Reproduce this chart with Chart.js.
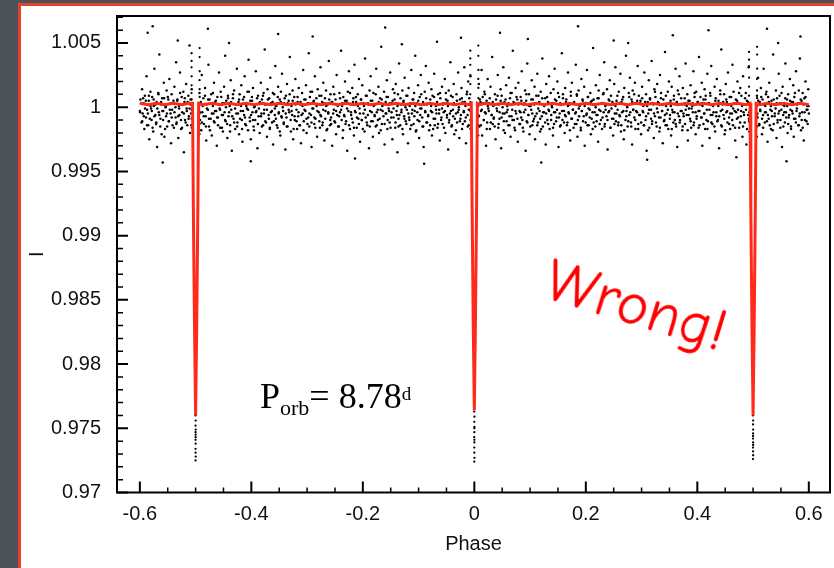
<!DOCTYPE html>
<html><head><meta charset="utf-8">
<script src="https://cdn.jsdelivr.net/npm/chart.js@4.4.1/dist/chart.umd.min.js"></script>
<style>
html,body{margin:0;padding:0}
body{width:834px;height:568px;overflow:hidden;position:relative;background:#4d5158}
#panel{position:absolute;left:18px;top:3px;width:830px;height:590px;background:#fff;border:3px solid #e4402a;box-sizing:border-box}
#c{position:absolute;left:0;top:0}
#porb{position:absolute;left:260px;top:378px;font-family:"Liberation Serif","Times New Roman",serif;font-size:36px;line-height:1;color:#000;white-space:nowrap}
#porb .sb{font-size:22px;position:relative;top:7px}
#porb .sp{font-size:19px;position:relative;top:-8px}
#wrong{position:absolute;left:636px;top:306px;transform:translate(-50%,-50%) rotate(17deg);font-family:"Comic Sans MS","Comic Neue","DejaVu Sans",sans-serif;font-size:60px;line-height:1;color:#ff0000;white-space:nowrap}
</style></head><body>
<div id="panel"></div>
<canvas id="c" width="834" height="568"></canvas>
<div id="porb">P<span class="sb">orb</span>= 8.78<span class="sp">d</span></div>
<div id="wrong">Wrong!</div>
<script>
const xTicks=[-0.6,-0.4,-0.2,0,0.2,0.4,0.6];
const xMinorTicks=[-0.55,-0.5,-0.45,-0.35,-0.3,-0.25,-0.15,-0.1,-0.05,0.05,0.1,0.15,0.25,0.3,0.35,0.45,0.5,0.55];
const yTicks=[0.97,0.975,0.98,0.985,0.99,0.995,1,1.005];
const yMinorTicks=[0.971,0.972,0.973,0.974,0.976,0.977,0.978,0.979,0.981,0.982,0.983,0.984,0.986,0.987,0.988,0.989,0.991,0.992,0.993,0.994,0.996,0.997,0.998,0.999,1.001,1.002,1.003,1.004,1.006,1.007];

const cloudA=[[-.600,.9997],[-.599,1.0006],[-.597,.9988],[-.596,1.0014],[-.595,.9995],[-.593,1.0003],[-.592,.9983],[-.591,1.0009],[-.589,.9992],[-.588,1.0024],[-.587,.9998],[-.585,.9986],[-.584,1.0005],[-.583,.9975],[-.581,1.0012],[-.580,.9999],[-.579,.9990],[-.578,1.0008],[-.576,.9981],[-.575,1.0001],[-.574,1.0030],[-.572,.9994],[-.571,.9987],[-.570,1.0004],[-.569,.9969],[-.567,1.0011],[-.566,.9996],[-.565,1.0041],[-.563,.9991],[-.562,1.0002],[-.561,.9979],[-.560,1.0007],[-.558,.9997],[-.557,1.0019],[-.556,.9977],[-.554,1.0000],[-.553,.9993],[-.552,1.0013],[-.551,.9985],[-.549,1.0006],[-.548,.9989],[-.547,1.0022],[-.545,.9995],[-.544,.9972],[-.543,1.0010],[-.542,.9998],[-.540,1.0003],[-.539,.9984],[-.538,1.0016],[-.536,.9992],[-.535,1.0035],[-.534,.9988],[-.533,1.0005],[-.531,.9976],[-.530,1.0001],[-.529,.9994],[-.528,1.0027],[-.526,.9983],[-.525,1.0008],[-.524,.9996],[-.522,1.0012],[-.521,.9965],[-.520,1.0004],[-.519,.9990],[-.517,1.0018],[-.516,.9999],[-.515,.9986],[-.513,1.0009],[-.512,.9993],[-.511,1.0048],[-.510,.9980],[-.509,1.0002],[-.508,.9995],[-.507,1.0014]];

const cloudB=[[-.493,1.0011],[-.492,.9990],[-.491,1.0003],[-.490,.9982],[-.489,1.0025],[-.488,.9996],[-.486,1.0007],[-.485,.9987],
[-.483,1.0015],[-.482,.9993],[-.481,.9974],[-.480,1.0002],[-.478,.9998],[-.477,1.0033],[-.476,.9985],[-.475,1.0006],
[-.473,.9991],[-.472,1.0010],[-.471,.9978],[-.469,1.0001],[-.468,.9995],[-.467,1.0019],[-.466,.9988],[-.465,1.0004],
[-.463,.9997],[-.462,.9970],[-.461,1.0008],[-.460,.9992],[-.458,1.0027],[-.457,.9999],[-.456,.9984],[-.455,1.0012],
[-.453,.9994],[-.452,1.0003],[-.451,.9981],[-.449,1.0016],[-.448,.9996],[-.447,1.0040],[-.446,.9989],[-.445,1.0005],
[-.443,.9976],[-.442,1.0009],[-.441,.9993],[-.439,1.0001],[-.438,.9986],[-.437,1.0021],[-.436,.9998],[-.435,.9966],
[-.433,1.0007],[-.432,.9991],[-.431,1.0013],[-.429,.9983],[-.428,1.0002],[-.427,.9995],[-.426,1.0030],[-.425,.9988],
[-.423,1.0004],[-.422,.9979],[-.421,1.0010],[-.419,.9997],[-.418,1.0017],[-.417,.9990],[-.416,.9973],[-.415,1.0006],
[-.413,.9994],[-.412,1.0024],[-.411,.9987],[-.409,1.0001],[-.408,.9999],[-.407,1.0012],[-.406,.9982],[-.405,1.0037],
[-.403,.9992],[-.402,1.0005],[-.401,.9975],[-.399,1.0008],[-.398,.9996],[-.397,1.0015],[-.396,.9985],[-.395,1.0000],
[-.393,.9990],[-.392,1.0028],[-.391,.9997],[-.389,.9968],[-.388,1.0009],[-.387,.9993],[-.386,1.0003],[-.385,.9980],
[-.383,1.0019],[-.382,.9995],[-.381,1.0006],[-.379,.9986],[-.378,1.0011],[-.377,.9998],[-.376,1.0045],[-.375,.9989],
[-.373,1.0002],[-.372,.9977],[-.371,1.0014],[-.369,.9994],[-.368,1.0007],[-.367,.9983],[-.366,1.0023],[-.365,.9996],
[-.363,.9988],[-.362,1.0004],[-.361,.9971],[-.359,1.0010],[-.358,.9999],[-.357,1.0032],[-.356,.9991],[-.355,1.0001],
[-.353,.9984],[-.352,1.0016],[-.351,.9995],[-.349,1.0006],[-.348,.9978],[-.347,1.0012],[-.346,.9993],[-.345,1.0026],
[-.343,.9997],[-.342,.9987],[-.341,1.0003],[-.339,.9967],[-.338,1.0009],[-.337,.9992],[-.336,1.0018],[-.335,.9985],
[-.333,1.0005],[-.332,.9996],[-.331,1.0039],[-.329,.9981],[-.328,1.0001],[-.327,.9994],[-.326,1.0013],[-.325,.9975],
[-.323,1.0008],[-.322,.9990],[-.321,1.0022],[-.319,.9998],[-.318,.9983],[-.317,1.0004],[-.316,.9993],[-.315,1.0015],
[-.313,.9986],[-.312,1.0002],[-.311,.9972],[-.309,1.0011],[-.308,.9995],[-.307,1.0029],[-.306,.9989],[-.305,1.0006],
[-.303,.9997],[-.302,1.0017],[-.301,.9980],[-.299,1.0003],[-.298,.9992],[-.297,1.0042],[-.296,.9985],[-.295,1.0008],
[-.293,.9994],[-.292,.9969],[-.291,1.0012],[-.289,.9999],[-.288,1.0005],[-.287,.9987],[-.286,1.0024],[-.285,.9991],
[-.283,1.0001],[-.282,.9977],[-.281,1.0014],[-.279,.9996],[-.278,1.0009],[-.277,.9984],[-.276,1.0031],[-.275,.9993],
[-.273,1.0004],[-.272,.9988],[-.271,1.0019],[-.269,.9974],[-.268,1.0007],[-.267,.9997],[-.266,1.0013],[-.265,.9982],
[-.263,1.0002],[-.262,.9995],[-.261,1.0036],[-.259,.9986],[-.258,1.0010],[-.257,.9992],[-.256,1.0004],[-.255,.9970],
[-.253,1.0016],[-.252,.9998],[-.251,.9989],[-.249,1.0006],[-.248,.9979],[-.247,1.0025],[-.246,.9994],[-.245,1.0001],
[-.243,.9985],[-.242,1.0011],[-.241,.9996],[-.239,1.0044],[-.238,.9990],[-.237,1.0003],[-.236,.9976],[-.235,1.0008],
[-.233,.9993],[-.232,1.0020],[-.231,.9987],[-.229,1.0005],[-.228,.9966],[-.227,1.0012],[-.226,.9997],[-.225,1.0028],
[-.223,.9983],[-.222,1.0002],[-.221,.9994],[-.219,1.0015],[-.218,.9988],[-.217,1.0007],[-.216,.9978],[-.215,1.0033],
[-.213,.9996],[-.212,1.0004],[-.211,.9984],[-.209,1.0010],[-.208,.9991],[-.207,1.0022],[-.206,.9999],[-.205,.9973],
[-.203,1.0006],[-.202,.9990],[-.201,1.0017],[-.199,.9995],[-.198,1.0001],[-.197,.9981],[-.196,1.0038],[-.195,.9992],
[-.193,1.0009],[-.192,.9986],[-.191,1.0003],[-.189,.9968],[-.188,1.0013],[-.187,.9997],[-.186,1.0024],[-.185,.9989],
[-.183,1.0005],[-.182,.9977],[-.181,1.0011],[-.179,.9994],[-.178,1.0002],[-.177,.9985],[-.176,1.0030],[-.175,.9996],
[-.173,.9990],[-.172,1.0016],[-.171,.9980],[-.169,1.0007],[-.168,.9998],[-.167,1.0047],[-.166,.9987],[-.165,1.0001],
[-.163,.9993],[-.162,1.0012],[-.161,.9971],[-.159,1.0004],[-.158,.9995],[-.157,1.0021],[-.156,.9983],[-.155,1.0008],
[-.153,.9997],[-.152,.9988],[-.151,1.0027],[-.149,.9992],[-.148,1.0003],[-.147,.9975],[-.146,1.0014],[-.145,.9999],
[-.143,1.0006],[-.142,.9984],[-.141,1.0018],[-.139,.9994],[-.138,.9965],[-.137,1.0010],[-.136,.9991],[-.135,1.0034],
[-.133,.9986],[-.132,1.0002],[-.131,.9996],[-.129,1.0013],[-.128,.9979],[-.127,1.0005],[-.126,.9993],[-.125,1.0023],
[-.123,.9989],[-.122,1.0009],[-.121,.9998],[-.119,.9972],[-.118,1.0015],[-.117,.9992],[-.116,1.0001],[-.115,.9983],
[-.113,1.0029],[-.112,.9995],[-.111,1.0006],[-.109,.9987],[-.108,1.0011],[-.107,.9997],[-.106,1.0040],[-.105,.9981],
[-.103,1.0003],[-.102,.9990],[-.101,1.0017],[-.099,.9976],[-.098,1.0008],[-.097,.9994],[-.096,1.0025],[-.095,.9999],
[-.093,.9985],[-.092,1.0004],[-.091,.9969],[-.089,1.0012],[-.088,.9996],[-.087,1.0032],[-.086,.9988],[-.085,1.0002],
[-.083,.9993],[-.082,1.0019],[-.081,.9982],[-.079,1.0006],[-.078,.9997],[-.077,1.0014],[-.076,.9978],[-.075,1.0009],
[-.073,.9991],[-.072,1.0026],[-.071,.9986],[-.069,1.0001],[-.068,.9995],[-.067,1.0051],[-.066,.9984],[-.065,1.0010],
[-.063,.9998],[-.062,.9974],[-.061,1.0007],[-.059,.9992],[-.058,1.0016],[-.057,.9987],[-.056,1.0003],[-.055,.9996],
[-.053,1.0022],[-.052,.9980],[-.051,1.0011],[-.049,.9994],[-.048,1.0005],[-.047,.9967],[-.046,1.0013],[-.045,.9990],
[-.043,1.0035],[-.042,.9997],[-.041,.9985],[-.039,1.0008],[-.038,.9993],[-.037,1.0018],[-.036,.9979],[-.035,1.0002],
[-.033,.9995],[-.032,1.0010],[-.031,.9988],[-.029,1.0027],[-.028,.9998],[-.027,.9976],[-.026,1.0006],[-.025,.9991],
[-.023,1.0015],[-.022,.9983],[-.021,1.0004],[-.019,.9996],[-.018,1.0031],[-.017,.9989],[-.016,1.0001],[-.015,.9972],
[-.013,1.0012],[-.012,.9994],[-.011,1.0020],[-.010,.9986],[-.009,1.0007],[-.008,.9998],[-.007,1.0024]];

const cloudC=[[.007,.9993],[.008,1.0018],[.009,.9985],[.011,1.0004],[.012,.9997],[.013,1.0029],[.014,.9978],[.015,1.0008],
[.017,.9990],[.018,1.0012],[.019,.9996],[.021,.9970],[.022,1.0005],[.023,.9988],[.024,1.0022],[.025,.9999],
[.027,1.0003],[.028,.9983],[.029,1.0016],[.031,.9994],[.032,1.0039],[.033,.9987],[.034,1.0001],[.035,.9992],
[.037,1.0010],[.038,.9975],[.039,1.0006],[.041,.9997],[.042,1.0025],[.043,.9984],[.044,1.0002],[.045,.9991],
[.047,1.0014],[.048,.9968],[.049,1.0009],[.051,.9995],[.052,1.0031],[.053,.9989],[.054,1.0004],[.055,.9980],
[.057,1.0017],[.058,.9996],[.059,1.0001],[.061,.9986],[.062,1.0023],[.063,.9993],[.064,1.0007],[.065,.9977],
[.067,1.0011],[.068,.9998],[.069,1.0044],[.071,.9990],[.072,1.0003],[.073,.9982],[.074,1.0015],[.075,.9995],
[.077,1.0006],[.078,.9973],[.079,1.0019],[.081,.9997],[.082,.9987],[.083,1.0008],[.084,.9992],[.085,1.0028],
[.087,.9984],[.088,1.0002],[.089,.9996],[.091,1.0013],[.092,.9966],[.093,1.0005],[.094,.9989],[.095,1.0034],
[.097,.9994],[.098,1.0010],[.099,.9979],[.101,1.0001],[.102,.9998],[.103,1.0021],[.104,.9986],[.105,1.0006],
[.107,.9991],[.108,1.0016],[.109,.9975],[.111,1.0003],[.112,.9995],[.113,1.0026],[.114,.9988],[.115,1.0009],
[.117,.9997],[.118,.9981],[.119,1.0012],[.121,.9993],[.122,1.0038],[.123,.9985],[.124,1.0002],[.125,.9996],
[.127,1.0007],[.128,.9971],[.129,1.0018],[.131,.9990],[.132,1.0004],[.133,.9998],[.134,1.0024],[.135,.9983],
[.137,1.0011],[.138,.9994],[.139,1.0001],[.141,.9978],[.142,1.0014],[.143,.9987],[.144,1.0030],[.145,.9996],
[.147,1.0005],[.148,.9992],[.149,1.0020],[.151,.9969],[.152,1.0008],[.153,.9995],[.154,1.0003],[.155,.9986],
[.157,1.0042],[.158,.9990],[.159,1.0010],[.161,.9997],[.162,.9980],[.163,1.0015],[.164,.9993],[.165,1.0006],
[.167,.9988],[.168,1.0027],[.169,.9996],[.171,1.0002],[.172,.9974],[.173,1.0012],[.174,.9991],[.175,1.0019],
[.177,.9998],[.178,.9984],[.179,1.0004],[.181,.9995],[.182,1.0033],[.183,.9987],[.184,1.0009],[.185,.9977],
[.187,1.0013],[.188,.9993],[.189,1.0001],[.191,.9982],[.192,1.0022],[.193,.9997],[.194,1.0006],[.195,.9989],
[.197,1.0016],[.198,.9970],[.199,1.0003],[.201,.9994],[.202,1.0029],[.203,.9986],[.204,1.0008],[.205,.9999],
[.207,.9992],[.208,1.0011],[.209,.9979],[.211,1.0005],[.212,.9996],[.213,1.0046],[.214,.9988],[.215,1.0002],
[.217,.9985],[.218,1.0017],[.219,.9994],[.221,1.0007],[.222,.9973],[.223,1.0013],[.224,.9998],[.225,1.0025],
[.227,.9990],[.228,1.0003],[.229,.9983],[.231,1.0010],[.232,.9996],[.233,1.0035],[.234,.9987],[.235,1.0001],
[.237,.9993],[.238,1.0014],[.239,.9967],[.241,1.0006],[.242,.9997],[.243,1.0021],[.244,.9984],[.245,1.0009],
[.247,.9991],[.248,1.0002],[.249,.9978],[.251,1.0018],[.252,.9995],[.253,1.0031],[.254,.9989],[.255,1.0005],
[.257,.9998],[.258,.9986],[.259,1.0012],[.261,.9993],[.262,1.0026],[.263,.9981],[.264,1.0004],[.265,.9996],
[.267,1.0008],[.268,.9975],[.269,1.0015],[.271,.9990],[.272,1.0040],[.273,.9997],[.274,1.0001],[.275,.9985],
[.277,1.0011],[.278,.9994],[.279,1.0023],[.281,.9988],[.282,1.0006],[.283,.9971],[.284,1.0013],[.285,.9998],
[.287,.9992],[.288,1.0019],[.289,.9983],[.291,1.0003],[.292,.9996],[.293,1.0032],[.294,.9987],[.295,1.0009],
[.297,.9994],[.298,1.0005],[.299,.9979],[.301,1.0016],[.302,.9997],[.303,1.0001],[.304,.9986],[.305,1.0027],
[.307,.9990],[.308,1.0010],[.309,.9966],[.311,1.0004],[.312,.9995],[.313,1.0021],[.314,.9984],[.315,1.0007],
[.317,.9998],[.318,1.0036],[.319,.9989],[.321,1.0002],[.322,.9976],[.323,1.0014],[.324,.9993],[.325,1.0008],
[.327,.9985],[.328,1.0018],[.329,.9996],[.331,1.0003],[.332,.9981],[.333,1.0025],[.334,.9992],[.335,1.0011],
[.337,.9997],[.338,.9972],[.339,1.0006],[.341,.9990],[.342,1.0043],[.343,.9986],[.344,1.0001],[.345,.9995],
[.347,1.0012],[.348,.9983],[.349,1.0020],[.351,.9994],[.352,1.0005],[.353,.9978],[.354,1.0016],[.355,.9998],
[.357,.9988],[.358,1.0009],[.359,.9996],[.361,1.0030],[.362,.9985],[.363,1.0003],[.364,.9969],[.365,1.0013],
[.367,.9993],[.368,1.0024],[.369,.9990],[.371,1.0007],[.372,.9997],[.373,.9982],[.374,1.0015],[.375,.9995],
[.377,1.0002],[.378,.9987],[.379,1.0034],[.381,.9994],[.382,1.0010],[.383,.9974],[.384,1.0005],[.385,.9999],
[.387,.9991],[.388,1.0017],[.389,.9984],[.391,1.0001],[.392,.9996],[.393,1.0028],[.394,.9988],[.395,1.0008],
[.397,.9979],[.398,1.0012],[.399,.9993],[.401,1.0004],[.402,.9997],[.403,1.0039],[.404,.9986],[.405,1.0002],
[.407,.9992],[.408,1.0019],[.409,.9970],[.411,1.0006],[.412,.9995],[.413,1.0014],[.414,.9983],[.415,1.0009],
[.417,.9998],[.418,1.0026],[.419,.9989],[.421,1.0003],[.422,.9976],[.423,1.0011],[.424,.9994],[.425,1.0032],
[.427,.9987],[.428,1.0001],[.429,.9996],[.431,1.0016],[.432,.9981],[.433,1.0007],[.434,.9993],[.435,1.0022],
[.437,.9990],[.438,1.0005],[.439,.9968],[.441,1.0013],[.442,.9997],[.443,1.0045],[.444,.9985],[.445,1.0002],
[.447,.9994],[.448,1.0010],[.449,.9979],[.451,1.0018],[.452,.9996],[.453,1.0004],[.454,.9988],[.455,1.0027],
[.457,.9992],[.458,1.0008],[.459,.9983],[.461,1.0001],[.462,.9995],[.463,1.0033],[.464,.9986],[.465,1.0012],
[.467,.9997],[.468,.9974],[.469,1.0006],[.471,.9991],[.472,1.0020],[.473,.9998],[.474,1.0003],[.475,.9984],
[.477,1.0015],[.478,.9993],[.479,1.0009],[.481,.9977],[.482,1.0024],[.483,.9996],[.484,1.0002],[.485,.9988],
[.487,1.0011],[.488,.9971],[.489,1.0005],[.491,.9994],[.492,1.0031],[.493,.9989]];

const cloudD=[[.507,1.0009],[.508,.9992],[.509,1.0023],[.511,.9986],[.512,1.0004],[.513,.9997],[.514,1.0015],[.516,.9979],[.517,1.0006],[.518,.9994],[.519,1.0030],[.521,.9988],[.522,1.0001],[.523,.9996],[.524,1.0012],[.526,.9973],[.527,1.0008],[.528,.9991],[.529,1.0019],[.531,.9998],[.532,.9983],[.533,1.0005],[.534,.9993],[.536,1.0041],[.537,.9987],[.538,1.0002],[.539,.9995],[.541,1.0013],[.542,.9976],[.543,1.0007],[.544,.9990],[.546,1.0026],[.547,.9997],[.548,1.0003],[.549,.9984],[.551,1.0011],[.552,.9969],[.553,1.0016],[.554,.9994],[.556,1.0001],[.557,.9988],[.558,1.0034],[.559,.9996],[.561,1.0006],[.562,.9980],[.563,1.0010],[.564,.9992],[.566,1.0022],[.567,.9998],[.568,.9985],[.569,1.0004],[.571,.9995],[.572,1.0017],[.573,.9977],[.574,1.0008],[.576,.9991],[.577,1.0028],[.578,.9997],[.579,1.0002],[.581,.9986],[.582,1.0013],[.583,.9993],[.584,1.0038],[.586,.9982],[.587,1.0005],[.588,.9996],[.589,1.0011],[.591,.9974],[.592,1.0007],[.593,.9990],[.594,1.0020],[.596,.9998],[.597,1.0001],[.598,.9987],[.599,1.0014],[.600,.9995]];

const coreA=[[-.5994,.9996],[-.5977,1.0003],[-.5958,.9989],[-.5941,1.0007],[-.5929,.9993],[-.5907,.9999],[-.5893,1.0005],[-.5871,.9986],[-.5856,.9995],[-.5838,1.0009],[-.5822,.9991],[-.5809,1.0001],[-.5786,.9997],[-.5772,.9984],[-.5753,1.0006],[-.5739,.9993],[-.5718,1.0002],[-.5704,.9988],[-.5687,.9999],[-.5666,1.0010],[-.5651,.9994],[-.5634,.9985],[-.5619,1.0004],[-.5597,.9997],[-.5583,.9990],[-.5566,1.0007],[-.5548,.9983],[-.5532,1.0001],[-.5515,.9995],[-.5499,1.0008],[-.5481,.9989],[-.5463,.9998],[-.5449,1.0003],[-.5428,.9992],[-.5414,.9986],[-.5397,1.0005],[-.5379,.9996],[-.5362,1.0000],[-.5346,.9987],[-.5327,1.0006],[-.5313,.9993],[-.5295,.9999],[-.5278,1.0011],[-.5262,.9990],[-.5244,.9984],[-.5229,1.0002],[-.5211,.9995],[-.5193,1.0007],[-.5178,.9988],[-.5159,.9997],[-.5142,1.0004],[-.5126,.9991],[-.5109,.9999],[-.5091,1.0006],[-.5077,.9986]];

const coreB=[[-.4925,.9996],[-.4908,1.0004],[-.4887,.9988],[-.4873,1.0001],[-.4854,.9993],[-.4831,1.0009],[-.4815,.9985],[-.4797,.9999],[-.4775,1.0006],[-.4760,.9991],[-.4743,.9982],[-.4722,1.0003],[-.4708,.9995],[-.4689,1.0011],[-.4671,.9989],[-.4652,.9997],[-.4637,1.0005],[-.4614,.9992],[-.4598,.9986],[-.4580,1.0002],[-.4562,.9998],[-.4541,1.0008],[-.4527,.9984],[-.4509,.9994],[-.4488,1.0003],[-.4472,.9990],[-.4455,1.0000],[-.4433,.9987],[-.4418,1.0007],[-.4399,.9996],[-.4382,.9981],[-.4364,1.0004],[-.4345,.9993],[-.4329,1.0010],[-.4308,.9988],[-.4292,.9999],[-.4276,1.0002],[-.4255,.9985],[-.4239,.9995],[-.4220,1.0006],[-.4203,.9991],[-.4186,1.0001],[-.4167,.9983],[-.4149,.9997],[-.4131,1.0008],[-.4114,.9992],[-.4096,.9986],[-.4079,1.0003],[-.4058,.9998],[-.4043,1.0012],[-.4025,.9989],[-.4006,.9994],[-.3988,1.0005],[-.3971,.9990],[-.3953,.9982],[-.3935,1.0001],[-.3919,.9996],[-.3897,1.0007],[-.3882,.9987],[-.3864,.9999],[-.3846,1.0004],[-.3827,.9993],[-.3811,.9985],[-.3792,1.0009],[-.3774,.9995],[-.3758,1.0002],[-.3737,.9988],[-.3721,.9998],[-.3703,1.0006],[-.3686,.9991],[-.3668,.9984],[-.3649,1.0003],[-.3632,.9997],[-.3614,1.0011],[-.3596,.9989],[-.3579,.9994],[-.3561,1.0001],[-.3543,.9986],[-.3526,1.0008],[-.3507,.9996],[-.3490,.9981],[-.3472,1.0004],[-.3455,.9992],[-.3437,1.0000],[-.3419,.9988],[-.3402,1.0007],[-.3384,.9995],[-.3366,.9985],[-.3348,1.0003],[-.3331,.9998],[-.3313,1.0010],[-.3295,.9990],[-.3278,.9997],[-.3259,1.0005],[-.3242,.9983],[-.3224,.9993],[-.3206,1.0002],[-.3189,.9989],[-.3171,1.0008],[-.3153,.9996],[-.3136,.9986],[-.3117,1.0004],[-.3100,.9994],[-.3082,1.0001],[-.3065,.9982],[-.3047,.9998],[-.3028,1.0006],[-.3011,.9991],[-.2993,.9987],[-.2976,1.0003],[-.2958,.9995],[-.2940,1.0012],[-.2922,.9988],[-.2905,.9999],[-.2887,1.0004],[-.2869,.9992],[-.2852,.9984],[-.2834,1.0007],[-.2816,.9997],[-.2798,1.0002],[-.2781,.9989],[-.2763,.9994],[-.2745,1.0009],[-.2727,.9986],[-.2710,.9998],[-.2692,1.0003],[-.2674,.9991],[-.2656,1.0001],[-.2639,.9983],[-.2621,.9996],[-.2603,1.0006],[-.2585,.9990],[-.2568,.9987],[-.2550,1.0004],[-.2532,.9995],[-.2514,1.0010],[-.2497,.9988],[-.2479,.9997],[-.2461,1.0002],[-.2443,.9985],[-.2426,.9993],[-.2408,1.0007],[-.2390,.9998],[-.2372,1.0001],[-.2355,.9982],[-.2337,.9994],[-.2319,1.0005],[-.2301,.9989],[-.2284,.9999],[-.2266,1.0003],[-.2248,.9986],[-.2230,1.0011],[-.2213,.9996],[-.2195,.9991],[-.2177,1.0004],[-.2159,.9984],[-.2142,.9997],[-.2124,1.0008],[-.2106,.9992],[-.2088,1.0001],[-.2071,.9987],[-.2053,.9995],[-.2035,1.0006],[-.2017,.9990],[-.2000,.9983],[-.1982,1.0003],[-.1964,.9998],[-.1946,1.0009],[-.1929,.9988],[-.1911,.9994],[-.1893,1.0002],[-.1875,.9985],[-.1858,1.0005],[-.1840,.9996],[-.1822,.9989],[-.1804,1.0001],[-.1787,.9993],[-.1769,1.0010],[-.1751,.9986],[-.1733,.9998],[-.1716,1.0004],[-.1698,.9991],[-.1680,.9982],[-.1662,1.0006],[-.1645,.9997],[-.1627,1.0002],[-.1609,.9987],[-.1591,.9995],[-.1574,1.0008],[-.1556,.9990],[-.1538,.9999],[-.1520,1.0003],[-.1503,.9984],[-.1485,.9996],[-.1467,1.0005],[-.1449,.9992],[-.1432,1.0011],[-.1414,.9988],[-.1396,.9997],[-.1378,1.0001],[-.1361,.9985],[-.1343,.9994],[-.1325,1.0007],[-.1307,.9998],[-.1290,.9983],[-.1272,1.0004],[-.1254,.9991],[-.1236,1.0000],[-.1219,.9987],[-.1201,1.0009],[-.1183,.9995],[-.1165,.9990],[-.1148,1.0003],[-.1130,.9986],[-.1112,.9998],[-.1094,1.0006],[-.1077,.9993],[-.1059,1.0001],[-.1041,.9982],[-.1023,.9996],[-.1006,1.0005],[-.0988,.9989],[-.0970,.9999],[-.0952,1.0010],[-.0935,.9992],[-.0917,.9985],[-.0899,1.0002],[-.0881,.9997],[-.0864,1.0007],[-.0846,.9988],[-.0828,.9994],[-.0810,1.0003],[-.0793,.9986],[-.0775,1.0001],[-.0757,.9996],[-.0739,.9983],[-.0722,1.0008],[-.0704,.9991],[-.0686,.9998],[-.0668,1.0004],[-.0651,.9987],[-.0633,.9995],[-.0615,1.0011],[-.0597,.9990],[-.0580,.9999],[-.0562,1.0002],[-.0544,.9984],[-.0526,.9997],[-.0509,1.0006],[-.0491,.9992],[-.0473,1.0001],[-.0455,.9988],[-.0438,.9995],[-.0420,1.0009],[-.0402,.9986],[-.0384,.9998],[-.0367,1.0003],[-.0349,.9991],[-.0331,.9982],[-.0313,1.0005],[-.0296,.9996],[-.0278,1.0000],[-.0260,.9989],[-.0242,.9994],[-.0225,1.0007],[-.0207,.9987],[-.0189,.9997],[-.0171,1.0004],[-.0154,.9992],[-.0136,1.0010],[-.0118,.9985],[-.0100,.9998],[-.0083,1.0002]];

const coreC=[[.0081,.9993],[.0099,1.0006],[.0117,.9986],[.0134,.9998],[.0152,1.0003],[.0170,.9990],[.0188,1.0010],[.0205,.9995],[.0223,.9983],[.0241,1.0001],[.0259,.9997],[.0276,1.0007],[.0294,.9988],[.0312,.9994],[.0330,1.0004],[.0347,.9991],[.0365,.9985],[.0383,1.0002],[.0401,.9999],[.0418,1.0009],[.0436,.9987],[.0454,.9996],[.0472,1.0005],[.0489,.9992],[.0507,1.0000],[.0525,.9982],[.0543,.9995],[.0560,1.0006],[.0578,.9989],[.0596,.9998],[.0614,1.0003],[.0631,.9986],[.0649,1.0011],[.0667,.9993],[.0685,.9990],[.0702,1.0004],[.0720,.9984],[.0738,.9997],[.0756,1.0008],[.0773,.9991],[.0791,1.0002],[.0809,.9987],[.0827,.9996],[.0844,1.0005],[.0862,.9990],[.0880,.9981],[.0898,1.0003],[.0915,.9998],[.0933,1.0010],[.0951,.9988],[.0969,.9994],[.0986,1.0001],[.1004,.9985],[.1022,1.0006],[.1040,.9995],[.1057,.9989],[.1075,1.0002],[.1093,.9993],[.1111,1.0009],[.1128,.9986],[.1146,.9999],[.1164,1.0004],[.1182,.9991],[.1199,.9983],[.1217,1.0007],[.1235,.9996],[.1253,1.0001],[.1270,.9988],[.1288,.9995],[.1306,1.0008],[.1324,.9987],[.1341,.9997],[.1359,1.0003],[.1377,.9990],[.1395,1.0000],[.1412,.9984],[.1430,.9996],[.1448,1.0006],[.1466,.9989],[.1483,.9998],[.1501,1.0011],[.1519,.9992],[.1537,.9985],[.1554,1.0002],[.1572,.9997],[.1590,1.0007],[.1608,.9988],[.1625,.9994],[.1643,1.0004],[.1661,.9986],[.1679,1.0001],[.1696,.9995],[.1714,.9982],[.1732,1.0009],[.1750,.9991],[.1767,.9998],[.1785,1.0003],[.1803,.9987],[.1821,.9996],[.1838,1.0010],[.1856,.9990],[.1874,.9999],[.1892,1.0002],[.1909,.9984],[.1927,.9997],[.1945,1.0005],[.1963,.9993],[.1980,1.0001],[.1998,.9988],[.2016,.9995],[.2034,1.0008],[.2051,.9986],[.2069,.9998],[.2087,1.0004],[.2105,.9991],[.2122,.9983],[.2140,1.0006],[.2158,.9996],[.2176,1.0000],[.2193,.9989],[.2211,.9994],[.2229,1.0007],[.2247,.9987],[.2264,.9997],[.2282,1.0003],[.2300,.9992],[.2318,1.0011],[.2335,.9985],[.2353,.9998],[.2371,1.0002],[.2389,.9990],[.2406,.9996],[.2424,1.0005],[.2442,.9984],[.2460,.9999],[.2477,1.0004],[.2495,.9991],[.2513,.9987],[.2531,1.0001],[.2548,.9995],[.2566,1.0009],[.2584,.9988],[.2602,.9994],[.2619,1.0003],[.2637,.9986],[.2655,1.0006],[.2673,.9997],[.2690,.9982],[.2708,1.0002],[.2726,.9993],[.2744,1.0000],[.2761,.9989],[.2779,1.0008],[.2797,.9996],[.2815,.9985],[.2832,1.0004],[.2850,.9998],[.2868,1.0010],[.2886,.9990],[.2903,.9997],[.2921,1.0005],[.2939,.9983],[.2957,.9994],[.2974,1.0003],[.2992,.9988],[.3010,1.0007],[.3028,.9996],[.3045,.9986],[.3063,1.0004],[.3081,.9993],[.3099,1.0001],[.3116,.9982],[.3134,.9998],[.3152,1.0006],[.3170,.9991],[.3187,.9987],[.3205,1.0003],[.3223,.9995],[.3241,1.0012],[.3258,.9988],[.3276,.9999],[.3294,1.0004],[.3312,.9992],[.3329,.9984],[.3347,1.0007],[.3365,.9997],[.3383,1.0002],[.3400,.9989],[.3418,.9994],[.3436,1.0009],[.3454,.9986],[.3471,.9998],[.3489,1.0003],[.3507,.9991],[.3525,1.0001],[.3542,.9983],[.3560,.9996],[.3578,1.0006],[.3596,.9990],[.3613,.9987],[.3631,1.0004],[.3649,.9995],[.3667,1.0010],[.3684,.9988],[.3702,.9997],[.3720,1.0002],[.3738,.9985],[.3755,.9993],[.3773,1.0007],[.3791,.9998],[.3809,1.0001],[.3826,.9982],[.3844,.9994],[.3862,1.0005],[.3880,.9989],[.3897,.9999],[.3915,1.0003],[.3933,.9986],[.3951,1.0011],[.3968,.9996],[.3986,.9991],[.4004,1.0004],[.4022,.9984],[.4039,.9997],[.4057,1.0008],[.4075,.9992],[.4093,1.0001],[.4110,.9987],[.4128,.9995],[.4146,1.0006],[.4164,.9990],[.4181,.9983],[.4199,1.0003],[.4217,.9998],[.4235,1.0009],[.4252,.9988],[.4270,.9994],[.4288,1.0002],[.4306,.9985],[.4323,1.0005],[.4341,.9996],[.4359,.9989],[.4377,1.0001],[.4394,.9993],[.4412,1.0010],[.4430,.9986],[.4448,.9998],[.4465,1.0004],[.4483,.9991],[.4501,.9982],[.4519,1.0006],[.4536,.9997],[.4554,1.0002],[.4572,.9987],[.4590,.9995],[.4607,1.0008],[.4625,.9990],[.4643,.9999],[.4661,1.0003],[.4678,.9984],[.4696,.9996],[.4714,1.0005],[.4732,.9992],[.4749,1.0011],[.4767,.9988],[.4785,.9997],[.4803,1.0001],[.4820,.9985],[.4838,.9994],[.4856,1.0007],[.4874,.9998],[.4891,.9983],[.4909,1.0004],[.4925,.9991]];

const coreD=[[.5078,.9995],[.5093,1.0005],[.5112,.9987],[.5128,.9998],[.5147,1.0008],[.5161,.9991],[.5180,.9984],[.5196,1.0002],[.5214,.9996],[.5231,1.0010],[.5249,.9989],[.5265,.9994],[.5283,1.0004],[.5300,.9986],[.5318,1.0001],[.5335,.9997],[.5352,.9982],[.5370,1.0006],[.5387,.9993],[.5404,.9999],[.5422,1.0003],[.5439,.9988],[.5456,.9995],[.5474,1.0009],[.5491,.9990],[.5508,.9998],[.5526,1.0002],[.5543,.9985],[.5560,.9996],[.5578,1.0007],[.5595,.9992],[.5612,1.0001],[.5630,.9987],[.5647,.9994],[.5664,1.0005],[.5682,.9983],[.5699,.9997],[.5716,1.0004],[.5734,.9991],[.5751,1.0011],[.5768,.9988],[.5786,.9999],[.5803,1.0003],[.5820,.9986],[.5838,.9995],[.5855,1.0006],[.5872,.9990],[.5890,.9984],[.5907,1.0002],[.5924,.9996],[.5942,1.0008],[.5959,.9989],[.5976,.9998],[.5994,1.0001]];

const cloudOutliers=[[-.586,1.0058],[-.577,1.0063],[-.559,.9957],[-.532,1.0052],[-.478,1.0061],[-.440,1.0050],[-.401,.9958],[-.352,1.0057],[-.290,1.0055],[-.214,.9960],[-.160,1.0062],[-.130,1.0049],[-.090,.9956],[-.024,1.0054],[.046,1.0058],[.096,1.0053],[.120,.9957],[.186,1.0063],[.250,1.0052],[.276,1.0050],[.310,.9959],[.356,1.0056],[.420,1.0060],[.470,.9961],[.525,1.0061],[.545,1.0050],[.560,.9958],[.585,1.0055]];

const eclipseMinus=[[-.5072,1.0042],[-.5073,1.0031],[-.5071,1.0024],[-.5072,1.0017],[-.5073,1.0011],[-.5071,1.0006],[-.5072,.9998],[-.5073,.9991],[-.5071,.9984],[-.5072,1.0036],
[-.4928,1.0039],[-.4927,1.0028],[-.4929,1.0021],[-.4928,1.0014],[-.4927,1.0008],[-.4929,1.0002],[-.4928,.9995],[-.4927,.9987],[-.4929,.9979],[-.4928,1.0046],
[-.5002,.9760],[-.4999,.9756],[-.5001,.9752],[-.4998,.9749],[-.5000,.9745],[-.5002,.9741],[-.4999,.9738],[-.5001,.9734],[-.5000,.9731],[-.4998,.9728],[-.5001,.9725],[-.5000,.9747],[-.4999,.9743]];
const eclipseZero=[[-.0072,1.0044],[-.0073,1.0033],[-.0071,1.0025],[-.0072,1.0018],[-.0073,1.0010],[-.0071,1.0004],[-.0072,.9997],[-.0073,.9990],[-.0071,.9983],[-.0072,1.0038],
[.0072,1.0040],[.0073,1.0029],[.0071,1.0022],[.0072,1.0015],[.0073,1.0007],[.0071,1.0001],[.0072,.9994],[.0073,.9986],[.0071,.9978],[.0072,1.0048],
[-.0002,.9763],[.0001,.9759],[-.0001,.9755],[.0002,.9751],[0,.9747],[-.0002,.9743],[.0001,.9739],[-.0001,.9735],[0,.9731],[.0002,.9727],[-.0001,.9724],[0,.9750],[.0001,.9741]];
const eclipsePlus=[[.4928,1.0043],[.4927,1.0032],[.4929,1.0023],[.4928,1.0016],[.4927,1.0009],[.4929,1.0003],[.4928,.9996],[.4927,.9989],[.4929,.9981],[.4928,1.0037],
[.5072,1.0041],[.5073,1.0030],[.5071,1.0022],[.5072,1.0013],[.5073,1.0007],[.5071,1.0001],[.5072,.9993],[.5073,.9985],[.5071,.9977],[.5072,1.0047],
[.4998,.9760],[.5001,.9756],[.4999,.9753],[.5002,.9749],[.5000,.9746],[.4998,.9742],[.5001,.9739],[.4999,.9735],[.5000,.9732],[.5002,.9729],[.4999,.9726],[.5000,.9744],[.5001,.9737]];

const model=[[-.600,1.0003],[-.585,1.0002],[-.570,1.0003],[-.555,1.0002],[-.540,1.0003],[-.525,1.0002],[-.512,1.0003],
[-.5055,1.0003],[-.5040,.9920],[-.5020,.9830],[-.5000,.9760],[-.4980,.9830],[-.4960,.9920],[-.4945,1.0003],
[-.488,1.0002],[-.470,1.0003],[-.455,1.0002],[-.440,1.0003],[-.425,1.0002],[-.410,1.0003],[-.395,1.0002],[-.380,1.0003],[-.365,1.0002],[-.350,1.0003],[-.335,1.0002],[-.320,1.0003],[-.305,1.0002],[-.290,1.0003],[-.275,1.0002],[-.260,1.0003],[-.245,1.0002],[-.230,1.0003],[-.215,1.0002],[-.200,1.0003],[-.185,1.0002],[-.170,1.0003],[-.155,1.0002],[-.140,1.0003],[-.125,1.0002],[-.110,1.0003],[-.095,1.0002],[-.080,1.0003],[-.065,1.0002],[-.050,1.0003],[-.035,1.0002],[-.020,1.0003],[-.010,1.0002],
[-.0055,1.0003],[-.0040,.9922],[-.0020,.9833],[0,.9764],[.0020,.9833],[.0040,.9922],[.0055,1.0003],
[.010,1.0002],[.020,1.0003],[.035,1.0002],[.050,1.0003],[.065,1.0002],[.080,1.0003],[.095,1.0002],[.110,1.0003],[.125,1.0002],[.140,1.0003],[.155,1.0002],[.170,1.0003],[.185,1.0002],[.200,1.0003],[.215,1.0002],[.230,1.0003],[.245,1.0002],[.260,1.0003],[.275,1.0002],[.290,1.0003],[.305,1.0002],[.320,1.0003],[.335,1.0002],[.350,1.0003],[.365,1.0002],[.380,1.0003],[.395,1.0002],[.410,1.0003],[.425,1.0002],[.440,1.0003],[.455,1.0002],[.470,1.0003],[.488,1.0002],
[.4945,1.0003],[.4960,.9920],[.4980,.9830],[.5000,.9760],[.5020,.9830],[.5040,.9920],[.5055,1.0003],
[.512,1.0002],[.525,1.0003],[.540,1.0002],[.555,1.0003],[.570,1.0002],[.585,1.0003],[.600,1.0002]];

const toXY=a=>a.map(p=>({x:p[0],y:p[1]}));

const framePlugin={
  id:'frame',
  afterDatasetsDraw(chart){
    const {ctx,chartArea:a,scales:{x,y}}=chart;
    ctx.save();
    ctx.strokeStyle='#000';
    ctx.lineWidth=2;
    ctx.strokeRect(a.left,a.top,a.right-a.left,a.bottom-a.top);
    ctx.beginPath();
    yTicks.forEach(v=>{const p=y.getPixelForValue(v);ctx.moveTo(a.left,p);ctx.lineTo(a.left+11,p);});
    xTicks.forEach(v=>{const p=x.getPixelForValue(v);ctx.moveTo(p,a.bottom);ctx.lineTo(p,a.bottom-11);});
    ctx.stroke();
    ctx.lineWidth=1.5;
    ctx.beginPath();
    yMinorTicks.forEach(v=>{const p=y.getPixelForValue(v);ctx.moveTo(a.left,p);ctx.lineTo(a.left+6,p);});
    xMinorTicks.forEach(v=>{const p=x.getPixelForValue(v);ctx.moveTo(p,a.bottom);ctx.lineTo(p,a.bottom-5);});
    ctx.stroke();
    ctx.restore();
  }
};

const tickFont={family:'"Liberation Sans", Arial, sans-serif',size:20};

new Chart(document.getElementById('c'),{
  type:'scatter',
  data:{datasets:[
    {label:'model',data:toXY(model),showLine:true,borderColor:'#ff2a1a',borderWidth:3,pointRadius:0,fill:false,tension:0},
    {label:'eclipses',data:toXY([...eclipseMinus,...eclipseZero,...eclipsePlus]),pointRadius:1.15,pointBorderWidth:0,backgroundColor:'#000',borderColor:'#000'},
    {label:'data',data:toXY([...cloudA,...cloudB,...cloudC,...cloudD,...coreA,...coreB,...coreC,...coreD,...cloudOutliers]),pointRadius:1.25,pointBorderWidth:0,backgroundColor:'#000',borderColor:'#000'}
  ]},
  options:{
    responsive:false,animation:false,
    layout:{padding:{left:0,right:4,top:16,bottom:0}},
    plugins:{legend:{display:false},tooltip:{enabled:false}},
    scales:{
      x:{type:'linear',min:-0.641,max:0.638,
        grid:{display:false,drawTicks:false},border:{display:false},
        afterBuildTicks:s=>{s.ticks=xTicks.map(v=>({value:v}));},
        afterFit:s=>{s.height=75.5;s.paddingLeft=0;s.paddingRight=0;},
        ticks:{autoSkip:false,maxRotation:0,minRotation:0,padding:10,color:'#111',font:tickFont,callback:v=>String(v)},
        title:{display:true,text:'Phase',color:'#111',font:tickFont,padding:{top:0,bottom:12}}
      },
      y:{type:'linear',min:0.97,max:1.0071,
        grid:{display:false,drawTicks:false},border:{display:false},
        afterBuildTicks:s=>{s.ticks=yTicks.map(v=>({value:v}));},
        afterFit:s=>{s.width=117;s.paddingTop=0;s.paddingBottom=0;},
        ticks:{autoSkip:false,padding:16,color:'#111',font:tickFont,callback:v=>String(v)},
        title:{display:true,text:'I',color:'#111',font:tickFont,padding:{top:25,bottom:0}}
      }
    }
  },
  plugins:[framePlugin]
});
</script>
</body></html>
